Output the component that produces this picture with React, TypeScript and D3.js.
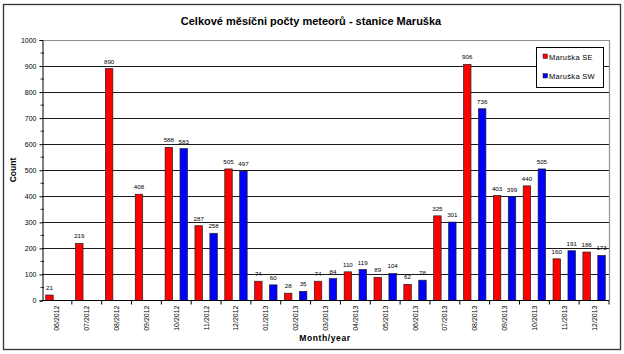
import React, { useRef, useEffect } from "react";
import * as d3 from "d3";

const months = [
  "06/2012", "07/2012", "08/2012", "09/2012", "10/2012", "11/2012", "12/2012",
  "01/2013", "02/2013", "03/2013", "04/2013", "05/2013", "06/2013", "07/2013",
  "08/2013", "09/2013", "10/2013", "11/2013", "12/2013",
];
const seValues = [21, 219, 890, 408, 588, 287, 505, 74, 28, 74, 110, 89, 62, 325, 906, 403, 440, 160, 186];
const swValues = [null, null, null, null, 583, 258, 497, 60, 35, 84, 119, 104, 78, 301, 736, 399, 505, 191, 173];
const seriesNames = ["Maruška SE", "Maruška SW"];
const seriesColors = ["#ff0000", "#0000ff"];
const yTicks = [0, 100, 200, 300, 400, 500, 600, 700, 800, 900, 1000];

const FONT = "'Liberation Sans', Arial, sans-serif";

const App = () => {
  const svgRef = useRef(null);

  const width = 624;
  const height = 354;
  const plot = { left: 42, right: 609, top: 40, bottom: 300.5 };

  useEffect(() => {
    const svg = d3.select(svgRef.current);
    svg.selectAll("*").remove();

    // outer frame
    svg.append("rect")
      .attr("x", 3.5).attr("y", 4.5)
      .attr("width", 617).attr("height", 345)
      .attr("fill", "#fff")
      .attr("stroke", "#333")
      .attr("stroke-width", 1.3);

    const xScale = d3.scaleBand()
      .domain(months)
      .range([plot.left, plot.right]);

    const xInner = d3.scaleBand()
      .domain(seriesNames)
      .range([0, xScale.bandwidth()])
      .paddingInner(0.5)
      .paddingOuter(0.25);

    const yScale = d3.scaleLinear()
      .domain([0, 1000])
      .range([plot.bottom, plot.top]);

    // gridlines
    svg.append("g")
      .selectAll("line")
      .data(yTicks.filter((t) => t > 0 && t < 1000))
      .join("line")
      .attr("x1", plot.left).attr("x2", plot.right)
      .attr("y1", (d) => Math.round(yScale(d)) + 0.5)
      .attr("y2", (d) => Math.round(yScale(d)) + 0.5)
      .attr("stroke", "#1a1a1a")
      .attr("stroke-width", 1);

    // plot area border (top and right)
    svg.append("path")
      .attr("d", `M${plot.left},${plot.top + 0.5}H${plot.right + 0.5}V${plot.bottom}`)
      .attr("fill", "none")
      .attr("stroke", "#909090")
      .attr("stroke-width", 1.2);

    // bars
    const series = [seValues, swValues];
    series.forEach((vals, si) => {
      const pts = months
        .map((m, i) => ({ m, v: vals[i] }))
        .filter((d) => d.v !== null);

      svg.append("g")
        .selectAll("rect")
        .data(pts)
        .join("rect")
        .attr("x", (d) => xScale(d.m) + xInner(seriesNames[si]))
        .attr("y", (d) => yScale(d.v))
        .attr("width", xInner.bandwidth())
        .attr("height", (d) => plot.bottom - yScale(d.v))
        .attr("fill", seriesColors[si])
        .attr("stroke", "#202020")
        .attr("stroke-width", 0.7);

      svg.append("g")
        .selectAll("text")
        .data(pts)
        .join("text")
        .attr("x", (d) => xScale(d.m) + xInner(seriesNames[si]) + xInner.bandwidth() / 2)
        .attr("y", (d) => yScale(d.v) - 5)
        .attr("text-anchor", "middle")
        .attr("font-family", FONT)
        .attr("font-size", 6.2)
        .attr("fill", "#000")
        .text((d) => d.v);
    });

    // y axis
    const yAxis = d3.axisLeft(yScale)
      .tickValues(yTicks)
      .tickFormat(d3.format("d"))
      .tickSize(3)
      .tickPadding(3);
    const yg = svg.append("g")
      .attr("transform", `translate(${plot.left + 0.5},0)`)
      .call(yAxis);
    yg.select(".domain").attr("stroke", "#000");
    yg.selectAll(".tick line").attr("stroke", "#000");
    yg.selectAll(".tick text")
      .attr("font-family", FONT)
      .attr("font-size", 7)
      .attr("fill", "#000");
    // minor ticks
    svg.append("g")
      .selectAll("line")
      .data(d3.range(50, 1000, 100))
      .join("line")
      .attr("x1", plot.left - 1.5).attr("x2", plot.left + 2)
      .attr("y1", (d) => yScale(d)).attr("y2", (d) => yScale(d))
      .attr("stroke", "#000")
      .attr("stroke-width", 0.8);

    // x axis
    svg.append("line")
      .attr("x1", plot.left).attr("x2", plot.right)
      .attr("y1", plot.bottom).attr("y2", plot.bottom)
      .attr("stroke", "#000");
    svg.append("g")
      .selectAll("line")
      .data(months)
      .join("line")
      .attr("x1", (d) => xScale(d) + xScale.bandwidth())
      .attr("x2", (d) => xScale(d) + xScale.bandwidth())
      .attr("y1", plot.bottom).attr("y2", plot.bottom + 4)
      .attr("stroke", "#000");
    svg.append("g")
      .selectAll("text")
      .data(months)
      .join("text")
      .attr("transform", (d) => `translate(${xScale(d) + xScale.bandwidth() / 2 + 2.5},${plot.bottom + 5}) rotate(-90)`)
      .attr("text-anchor", "end")
      .attr("font-family", FONT)
      .attr("font-size", 7)
      .attr("fill", "#000")
      .text((d) => d);

    // titles
    svg.append("text")
      .attr("x", 311).attr("y", 25)
      .attr("text-anchor", "middle")
      .attr("font-family", FONT)
      .attr("font-size", 11)
      .attr("font-weight", "bold")
      .text("Celkové měsíčni počty meteorů - stanice Maruška");

    svg.append("text")
      .attr("x", 325).attr("y", 341)
      .attr("text-anchor", "middle")
      .attr("font-family", FONT)
      .attr("font-size", 8.5)
      .attr("font-weight", "bold")
      .attr("letter-spacing", 0.6)
      .text("Month/year");

    svg.append("text")
      .attr("transform", "translate(16,170) rotate(-90)")
      .attr("text-anchor", "middle")
      .attr("font-family", FONT)
      .attr("font-size", 8.5)
      .attr("font-weight", "bold")
      .text("Count");

    // legend
    const lg = svg.append("g");
    lg.append("rect")
      .attr("x", 536.5).attr("y", 47.5)
      .attr("width", 67).attr("height", 40)
      .attr("fill", "#fff")
      .attr("stroke", "#000")
      .attr("stroke-width", 1);
    seriesNames.forEach((name, i) => {
      lg.append("rect")
        .attr("x", 543).attr("y", 54 + i * 19.5)
        .attr("width", 4.5).attr("height", 4.5)
        .attr("fill", seriesColors[i])
        .attr("stroke", "#202020")
        .attr("stroke-width", 0.5);
      lg.append("text")
        .attr("x", 549).attr("y", 59.5 + i * 19.5)
        .attr("font-family", FONT)
        .attr("font-size", 7.5)
        .attr("letter-spacing", 0.3)
        .text(name);
    });
  }, []);

  return (
    <div>
      <svg
        ref={svgRef}
        width={width}
        height={height}
        style={{ position: "absolute", left: 0, top: 0 }}
      ></svg>
    </div>
  );
};

export default App;
